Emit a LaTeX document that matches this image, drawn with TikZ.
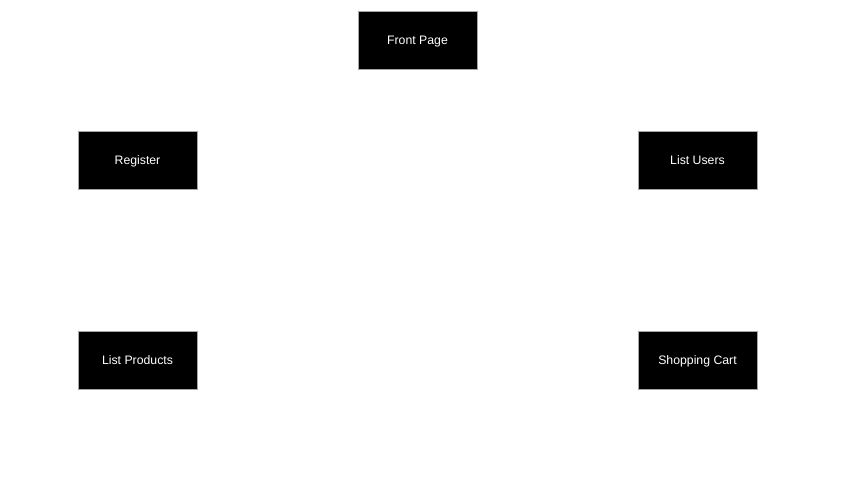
\documentclass[tikz,border=0pt]{standalone}
\usepackage{fontspec}
\setmainfont{Liberation Sans}
\usetikzlibrary{positioning}

\begin{document}
\begin{tikzpicture}[x=0.75pt,y=0.75pt,yscale=-1,xscale=1]
            \useasboundingbox (0,0) rectangle (846,480);
            \tikzset{page/.style={draw=gray!70,line width=0.75pt,fill=black,text=white,minimum width=89.25pt,minimum height=43.5pt,inner sep=0.75pt,text height=8pt,text depth=1.4pt,font=\fontsize{9.2}{11}\selectfont}}

            % Text Node
            \node [page] (front) at (417.5,40) {Front Page};
            % Text Node
            \node [page] (register) at (137.5,160) {Register};
            % Text Node
            \node [page] (users) at (697.5,160) {List Users};
            % Text Node
            \node [page] (products) at (137.5,360) {List Products};
            % Text Node
            \node [page] (cart) at (697.5,360) {Shopping Cart};

        \end{tikzpicture}
\end{document}
